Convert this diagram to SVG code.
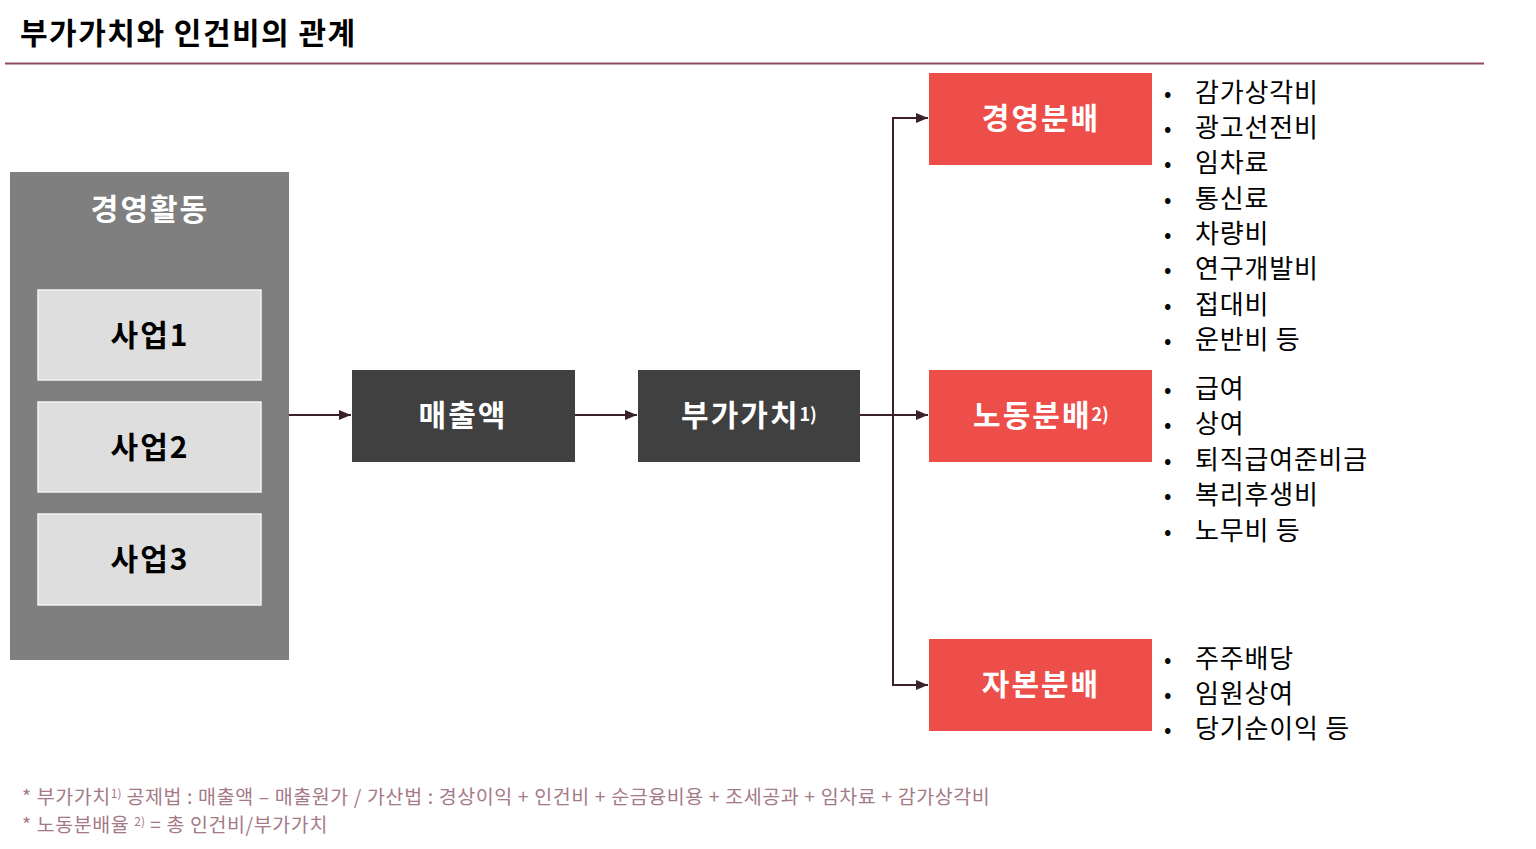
<svg xmlns="http://www.w3.org/2000/svg" width="1536" height="849" viewBox="0 0 1536 849">
<defs>
<style>
text{font-family:"Noto Sans CJK KR","Noto Sans",sans-serif}
.title{font-size:30px;font-weight:700;fill:#000;letter-spacing:1.5px}
.wb{font-size:30px;font-weight:700;fill:#fff;text-anchor:middle;letter-spacing:2px}
.bb{font-size:30px;font-weight:700;fill:#000;text-anchor:middle;letter-spacing:2px}
.li{font-size:26px;fill:#000;letter-spacing:0.8px}
.bul{font-size:22px;fill:#000}
.fn{font-size:19.5px;fill:#a57a88;letter-spacing:0.6px}
.red{fill:#ee4e49}
.dark{fill:#404040}
.sub{fill:#dedede;stroke:#f2f2f2;stroke-width:1.5}
.conn{stroke:#3a2228;stroke-width:2;fill:none}
</style>
<marker id="ah" viewBox="0 0 12 10" refX="12" refY="5" markerWidth="6" markerHeight="5" orient="auto" markerUnits="strokeWidth">
<path d="M0,0 L12,5 L0,10 z" fill="#3a2228"/>
</marker>
</defs>
<rect width="1536" height="849" fill="#fff"/>
<g id="title">
<text class="title" x="20" y="44">부가가치와 인건비의 관계</text>
<line x1="5" y1="63.5" x2="1484" y2="63.5" stroke="#8e4b5c" stroke-width="2"/>
</g>
<g id="connectors">
<line class="conn" x1="289" y1="415" x2="351" y2="415" marker-end="url(#ah)"/>
<line class="conn" x1="575" y1="415" x2="637" y2="415" marker-end="url(#ah)"/>
<line class="conn" x1="860" y1="415" x2="928" y2="415" marker-end="url(#ah)"/>
<polyline class="conn" points="893,118 893,685"/>
<line class="conn" x1="892" y1="118" x2="928" y2="118" marker-end="url(#ah)"/>
<line class="conn" x1="892" y1="685" x2="928" y2="685" marker-end="url(#ah)"/>
</g>
<g id="management">
<rect x="10" y="172" width="279" height="488" fill="#7f7f7f"/>
<text class="wb" x="150" y="220">경영활동</text>
</g>
<g id="biz1"><rect class="sub" x="38" y="290" width="223" height="90"/><text class="bb" x="150" y="346">사업1</text></g>
<g id="biz2"><rect class="sub" x="38" y="402" width="223" height="90"/><text class="bb" x="150" y="458">사업2</text></g>
<g id="biz3"><rect class="sub" x="38" y="514" width="223" height="91"/><text class="bb" x="150" y="570">사업3</text></g>
<g id="sales"><rect class="dark" x="352" y="370" width="223" height="92"/><text class="wb" x="463" y="426">매출액</text></g>
<g id="va"><rect class="dark" x="638" y="370" width="222" height="92"/><text class="wb" x="749" y="426">부가가치<tspan font-size="18" dy="-5" letter-spacing="0">1)</tspan></text></g>
<g id="mgmt-dist"><rect class="red" x="929" y="73" width="223" height="92"/><text class="wb" x="1041" y="129">경영분배</text></g>
<g id="labor-dist"><rect class="red" x="929" y="370" width="223" height="92"/><text class="wb" x="1041" y="426">노동분배<tspan font-size="18" dy="-5" letter-spacing="0">2)</tspan></text></g>
<g id="capital-dist"><rect class="red" x="929" y="639" width="223" height="92"/><text class="wb" x="1041" y="695">자본분배</text></g>
<g id="list1">
<text class="bul" x="1164" y="101">•</text><text class="li" x="1195" y="102">감가상각비</text>
<text class="bul" x="1164" y="136">•</text><text class="li" x="1195" y="137">광고선전비</text>
<text class="bul" x="1164" y="171">•</text><text class="li" x="1195" y="172">임차료</text>
<text class="bul" x="1164" y="207">•</text><text class="li" x="1195" y="208">통신료</text>
<text class="bul" x="1164" y="242">•</text><text class="li" x="1195" y="243">차량비</text>
<text class="bul" x="1164" y="277">•</text><text class="li" x="1195" y="278">연구개발비</text>
<text class="bul" x="1164" y="313">•</text><text class="li" x="1195" y="314">접대비</text>
<text class="bul" x="1164" y="348">•</text><text class="li" x="1195" y="349">운반비 등</text>
</g>
<g id="list2">
<text class="bul" x="1164" y="397">•</text><text class="li" x="1195" y="398">급여</text>
<text class="bul" x="1164" y="432">•</text><text class="li" x="1195" y="433">상여</text>
<text class="bul" x="1164" y="468">•</text><text class="li" x="1195" y="469">퇴직급여준비금</text>
<text class="bul" x="1164" y="503">•</text><text class="li" x="1195" y="504">복리후생비</text>
<text class="bul" x="1164" y="539">•</text><text class="li" x="1195" y="540">노무비 등</text>
</g>
<g id="list3">
<text class="bul" x="1164" y="667">•</text><text class="li" x="1195" y="668">주주배당</text>
<text class="bul" x="1164" y="702">•</text><text class="li" x="1195" y="703">임원상여</text>
<text class="bul" x="1164" y="737">•</text><text class="li" x="1195" y="738">당기순이익 등</text>
</g>
<g id="footnotes">
<text class="fn" x="22" y="804">* 부가가치<tspan font-size="12" dy="-6" letter-spacing="0">1)</tspan><tspan dy="6"> 공제법 : 매출액 – 매출원가 / 가산법 : 경상이익 + 인건비 + 순금융비용 + 조세공과 + 임차료 + 감가상각비</tspan></text>
<text class="fn" x="22" y="832">* 노동분배율 <tspan font-size="12" dy="-6" letter-spacing="0">2)</tspan><tspan dy="6"> = 총 인건비/부가가치</tspan></text>
</g>
</svg>
